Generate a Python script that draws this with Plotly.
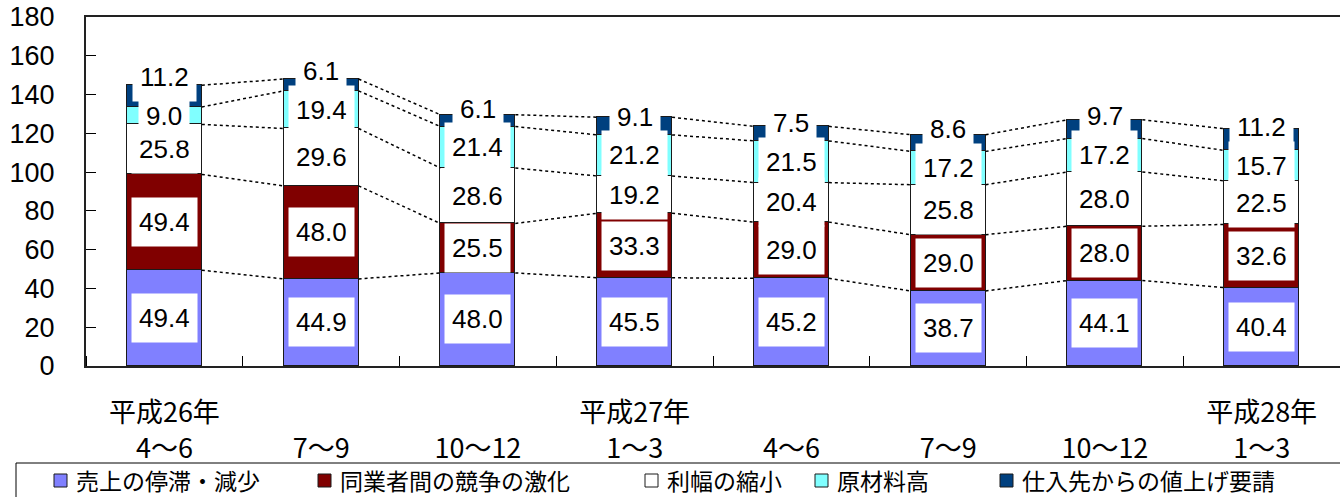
import plotly.graph_objects as go

# Quarter periods (two-line category labels: fiscal year / months)
years = ["平成26年", "", "", "平成27年", "", "", "", "平成28年"]
quarters = ["4〜6", "7〜9", "10〜12", "1〜3", "4〜6", "7〜9", "10〜12", "1〜3"]

# Series (bottom to top of each stacked column)
names = ["売上の停滞・減少", "同業者間の競争の激化", "利幅の縮小", "原材料高", "仕入先からの値上げ要請"]
sales_down = [49.4, 44.9, 48.0, 45.5, 45.2, 38.7, 44.1, 40.4]
competition = [49.4, 48.0, 25.5, 33.3, 29.0, 29.0, 28.0, 32.6]
margin_cut = [25.8, 29.6, 28.6, 19.2, 20.4, 25.8, 28.0, 22.5]
materials = [9.0, 19.4, 21.4, 21.2, 21.5, 17.2, 17.2, 15.7]
supplier_hike = [11.2, 6.1, 6.1, 9.1, 7.5, 8.6, 9.7, 11.2]
series = [sales_down, competition, margin_cut, materials, supplier_hike]
colors = ["#8080FF", "#800000", "#FFFFFF", "#80FFFF", "#00407F"]

y_ticks = list(range(0, 181, 20))

# ---- style / layout constants ----
W, H = 1340, 497
ML, MR, MT, MB = 86, 0, 17, 131
BAR_W = 0.478
HALF = BAR_W / 2
LABEL_GAP = 20.0  # min spacing (data units) between the two topmost labels
NUM_FONT = "Liberation Sans, Arial, sans-serif"
JP_FONT = "Noto Sans CJK JP, sans-serif"

plot_w = W - ML - MR
plot_h = H - MT - MB


def px_x(px):
    return (px - ML) / plot_w


def px_y(py):
    return (H - MB - py) / plot_h


x = list(range(len(quarters)))
fig = go.Figure()

for name, vals, col in zip(names, series, colors):
    fig.add_trace(go.Bar(
        x=x, y=vals, name=name, width=BAR_W,
        marker=dict(color=col, line=dict(color="#1a1a1a", width=1.2)),
        showlegend=False, hovertemplate="%{y:.1f}<extra>" + name + "</extra>",
    ))

# cumulative levels for connectors and label placement
cum = []
run = [0.0] * len(x)
for vals in series:
    base = run[:]
    run = [b + v for b, v in zip(run, vals)]
    cum.append((base, run[:]))

# dotted connector lines between neighbouring columns at each stack boundary
for base, top in cum:
    xs, ys = [], []
    for i in range(len(x) - 1):
        xs += [x[i] + HALF, x[i + 1] - HALF, None]
        ys += [top[i], top[i + 1], None]
    fig.add_trace(go.Scatter(
        x=xs, y=ys, mode="lines", showlegend=False, hoverinfo="skip",
        line=dict(color="black", width=1.5, dash="3px,3px"),
    ))

# value labels in white boxes
annotations = []
prev_mid = None
for k, (vals, (base, top)) in enumerate(zip(series, cum)):
    mids = []
    for i, v in enumerate(vals):
        yc = base[i] + v / 2
        if k == len(series) - 1 and prev_mid is not None:
            yc = max(yc, prev_mid[i] + LABEL_GAP)
        mids.append(yc)
        annotations.append(dict(
            x=x[i], y=yc, xref="x", yref="y", text=f"{v:.1f}",
            showarrow=False, bgcolor="white", borderpad=7, height=34,
            font=dict(family=NUM_FONT, size=26, color="black"),
        ))
    prev_mid = mids

# legend row drawn beneath the axis
shapes = [dict(
    type="rect", xref="paper", yref="paper",
    x0=px_x(16), x1=px_x(1345), y0=px_y(463), y1=px_y(500),
    line=dict(color="black", width=1), fillcolor="rgba(0,0,0,0)", layer="above",
)]
legend_x = [54, 318, 645, 815, 1000]
for lx, name, col in zip(legend_x, names, colors):
    shapes.append(dict(
        type="rect", xref="paper", yref="paper",
        x0=px_x(lx), x1=px_x(lx + 13), y0=px_y(474), y1=px_y(487),
        line=dict(color="#1a1a1a", width=1), fillcolor=col, layer="above",
    ))
    annotations.append(dict(
        x=px_x(lx + 21), y=px_y(480), xref="paper", yref="paper",
        text=name, showarrow=False, xanchor="left", yanchor="middle",
        borderpad=0, font=dict(family=JP_FONT, size=23, color="black"),
    ))

ticktext = [f"{yr if yr else chr(160)}<br>{q}" for yr, q in zip(years, quarters)]

fig.update_layout(
    width=W, height=H, barmode="stack", bargap=0,
    margin=dict(l=ML, r=MR, t=MT, b=MB, pad=0),
    paper_bgcolor="white", plot_bgcolor="white",
    showlegend=False, annotations=annotations, shapes=shapes,
    xaxis=dict(
        range=[-0.5, len(x) - 0.5], tickmode="array", tickvals=x, ticktext=ticktext,
        ticks="", showgrid=False, zeroline=False,
        showline=True, linecolor="#222", linewidth=2, mirror=True,
        tickfont=dict(family=JP_FONT, size=27, color="black"),
        ticklabelstandoff=22,
        minor=dict(tickvals=[i + 0.5 for i in range(-1, len(x))], ticks="inside",
                   ticklen=10, tickwidth=1, tickcolor="black", showgrid=False),
    ),
    yaxis=dict(
        range=[0, 180], tickmode="array", tickvals=y_ticks,
        ticks="inside", ticklen=10, tickwidth=1, tickcolor="black",
        showgrid=False, zeroline=False,
        showline=True, linecolor="#222", linewidth=2,
        tickfont=dict(family=NUM_FONT, size=27, color="black"),
        ticklabelstandoff=24,
    ),
)

fig.write_html("out.html")
